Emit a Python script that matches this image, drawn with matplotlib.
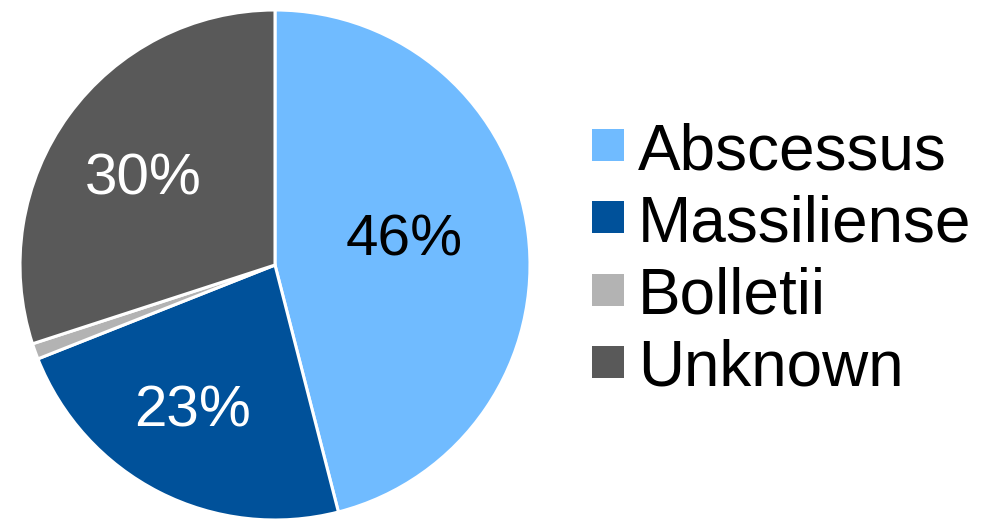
import matplotlib
matplotlib.use("Agg")
import matplotlib.pyplot as plt
from matplotlib.patches import Rectangle

plt.rcParams['font.family'] = ['Liberation Sans', 'DejaVu Sans']

# Share of isolates by subspecies (percent)
categories = ["Abscessus", "Massiliense", "Bolletii", "Unknown"]
shares = [46, 23, 1, 30]
colors = ["#70BBFF", "#00519A", "#B3B3B3", "#595959"]
pct_labels = ["46%", "23%", None, "30%"]
pct_colors = ["black", "white", None, "white"]

W, H = 999, 519
fig = plt.figure(figsize=(W / 100, H / 100), dpi=100)

# pie axes: centre (275, 265) px, radius 255 px
cx, cy, r = 275, 265, 255
ax = fig.add_axes([(cx - r) / W, (H - cy - r) / H, 2 * r / W, 2 * r / H])

wedges, _ = ax.pie(shares, colors=colors, startangle=90, counterclock=False,
                   radius=1, wedgeprops=dict(edgecolor="white", linewidth=2.2))
ax.set_xlim(-1, 1)
ax.set_ylim(-1, 1)
ax.axis("off")

# label baselines in pie-radius units
label_pos = [(0.506, 0.039), (-0.325, -0.635), None, (-0.518, 0.275)]
for lab, col, pos in zip(pct_labels, pct_colors, label_pos):
    if lab is None:
        continue
    ax.text(pos[0], pos[1], lab, color=col, fontsize=42, ha="center", va="baseline")

# legend: squares and names
sq = 32
row_centres = [145, 217, 290, 362]
for name, col, yc in zip(categories, colors, row_centres):
    fig.add_artist(Rectangle((592 / W, (H - yc - sq / 2) / H), sq / W, sq / H,
                             transform=fig.transFigure, facecolor=col,
                             edgecolor="none"))
    fig.text(638 / W, (H - yc - 24) / H, name, fontsize=46, color="black",
             ha="left", va="baseline")

fig.savefig("out.png", dpi=100, facecolor="white")
